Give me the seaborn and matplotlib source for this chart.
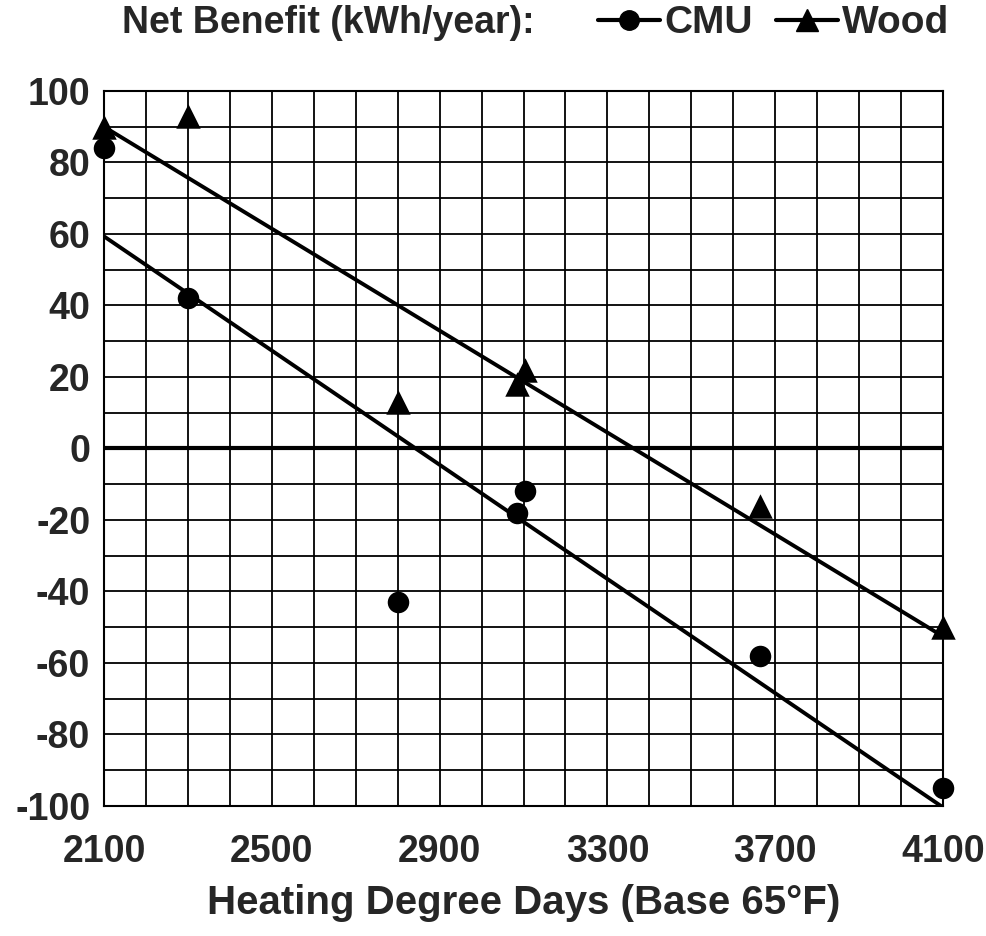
import numpy as np
import pandas as pd
import matplotlib
matplotlib.use("Agg")
import matplotlib.pyplot as plt
from matplotlib.lines import Line2D
import seaborn as sns

# ---- data ----
hdd = [2100, 2300, 2800, 3085, 3104, 3664, 4100]
cmu = [84, 42, -43, -18, -12, -58, -95]
wood = [90, 93, 13, 18, 22, -16, -50]
x_tick_labels = ["2100", "2500", "2900", "3300", "3700", "4100"]
y_tick_labels = ["100", "80", "60", "40", "20", "0", "-20", "-40", "-60", "-80", "-100"]

sns.set_style("white")
plt.rcParams["font.family"] = ["Liberation Sans", "DejaVu Sans"]
plt.rcParams["font.weight"] = "bold"

fig = plt.figure(figsize=(9.87, 9.36), dpi=100)
ax = fig.add_axes([0.1054, 0.1389, 0.8500, 0.7639])

df = pd.DataFrame({"hdd": hdd, "CMU": cmu, "Wood": wood})

sns.regplot(data=df, x="hdd", y="CMU", ax=ax, ci=None, marker="o", truncate=True,
            scatter_kws=dict(s=240, color="black", alpha=1, zorder=5, clip_on=False, linewidths=0),
            line_kws=dict(color="black", lw=2.8, zorder=4))
sns.regplot(data=df, x="hdd", y="Wood", ax=ax, ci=None, marker="^", truncate=True,
            scatter_kws=dict(s=310, color="black", alpha=1, zorder=5, clip_on=False, linewidths=0),
            line_kws=dict(color="black", lw=2.8, zorder=4))

ax.set_xlim(2100, 4100)
ax.set_ylim(-100, 100)

xt = np.arange(2100, 4101, 100)
ax.set_xticks(xt)
xl = []
for v in xt:
    s = str(int(v))
    xl.append(s if s in x_tick_labels else "")
ax.set_xticklabels(xl)

yt = np.arange(-100, 101, 10)
ax.set_yticks(yt)
yl = []
for v in yt:
    s = str(int(v))
    yl.append(s if s in y_tick_labels else "")
ax.set_yticklabels(yl)

ax.grid(True, color="black", lw=1.3, zorder=1)
ax.set_axisbelow(True)
ax.axhline(0, color="black", lw=3, zorder=3)

for sp in ax.spines.values():
    sp.set_color("black")
    sp.set_linewidth(1.5)

ax.tick_params(axis="x", direction="out", length=8, width=1.3, color="black",
               labelsize=27, pad=12)
ax.tick_params(axis="y", direction="out", length=5, width=1.3, color="black",
               labelsize=27, pad=5)
for lab in ax.get_xticklabels() + ax.get_yticklabels():
    lab.set_fontweight("bold")

ax.set_xlabel("Heating Degree Days (Base 65°F)", fontsize=29, fontweight="bold", labelpad=10)
ax.set_ylabel("")

fig.text(0.124, 0.975, "Net Benefit (kWh/year):", fontsize=27, fontweight="bold",
         ha="left", va="center")

handles = [
    Line2D([], [], color="black", lw=3, marker="o", markersize=14, label="CMU"),
    Line2D([], [], color="black", lw=3, marker="^", markersize=16, label="Wood"),
]
fig.legend(handles=handles, loc="center right", bbox_to_anchor=(0.962, 0.975), ncol=2,
           frameon=False, prop=dict(size=28, weight="bold"), handlelength=1.6,
           handletextpad=0.1, columnspacing=0.6, borderaxespad=0, borderpad=0)

fig.savefig("out.png", dpi=100)
